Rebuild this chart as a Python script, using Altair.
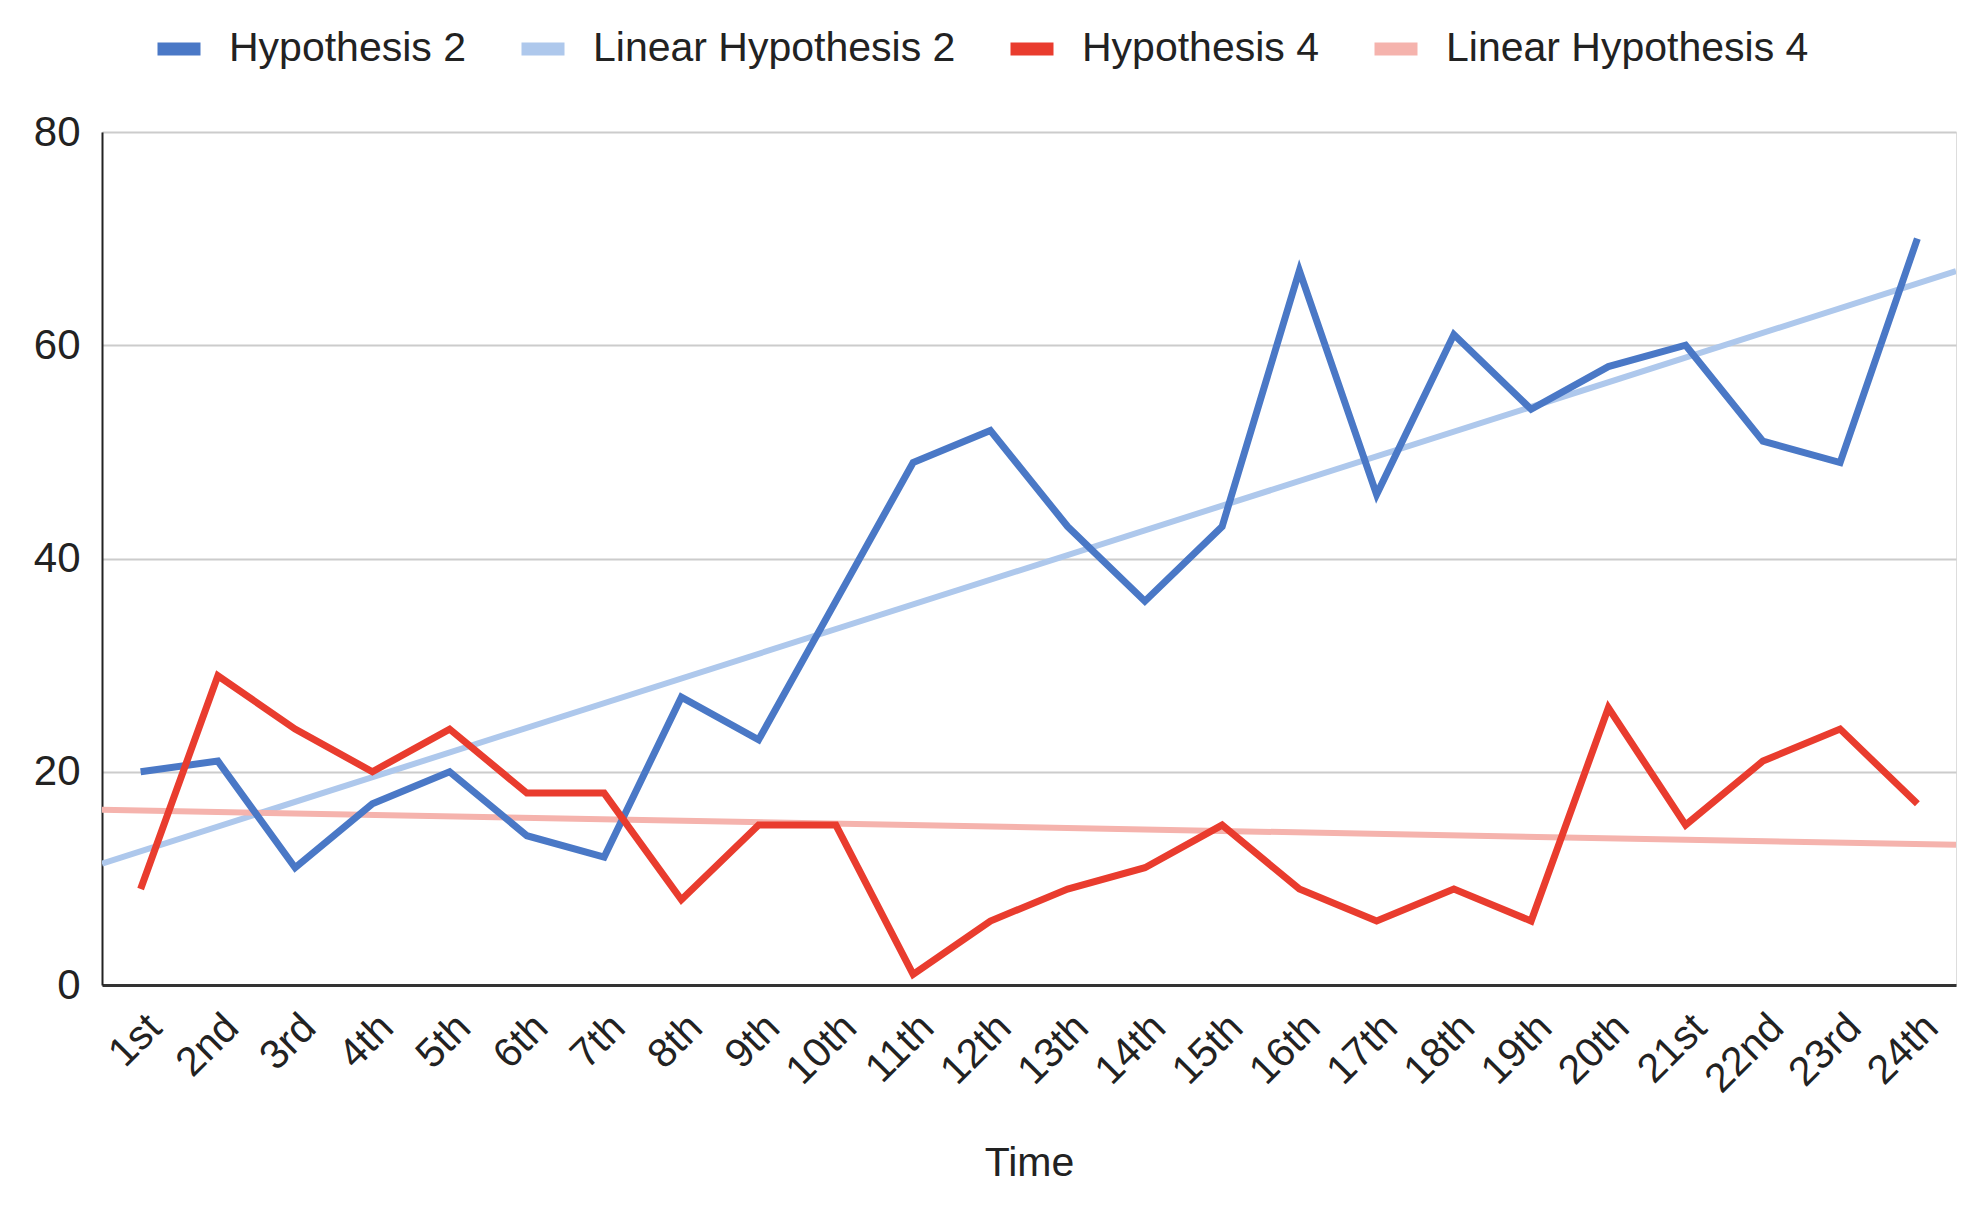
import altair as alt
import pandas as pd

labels = ["1st", "2nd", "3rd", "4th", "5th", "6th", "7th", "8th", "9th", "10th",
          "11th", "12th", "13th", "14th", "15th", "16th", "17th", "18th", "19th", "20th",
          "21st", "22nd", "23rd", "24th"]
hyp2 = [20, 21, 11, 17, 20, 14, 12, 27, 23, 36, 49, 52, 43, 36, 43, 67, 46, 61, 54, 58, 60, 51, 49, 70]
hyp4 = [9, 29, 24, 20, 24, 18, 18, 8, 15, 15, 1, 6, 9, 11, 15, 9, 6, 9, 6, 26, 15, 21, 24, 17]

series_names = ["Hypothesis 2", "Linear Hypothesis 2", "Hypothesis 4", "Linear Hypothesis 4"]
series_colors = ["#4a78c6", "#aec8ec", "#e93c2e", "#f5b3ad"]

rows = []
for i, (a, b) in enumerate(zip(hyp2, hyp4)):
    rows.append({"series": "Hypothesis 2", "idx": i + 1, "value": a})
    rows.append({"series": "Hypothesis 4", "idx": i + 1, "value": b})
df = pd.DataFrame(rows)

label_expr = "[" + ",".join("'%s'" % l for l in labels) + "][datum.value - 1]"

FONT = "Liberation Sans"

x_enc = alt.X("idx:Q",
              scale=alt.Scale(domain=[0.5, 24.5], nice=False, zero=False),
              axis=alt.Axis(values=list(range(1, 25)), labelExpr=label_expr,
                            labelAngle=-45, grid=False, ticks=False,
                            labelOverlap=False, labelBound=False,
                            domainColor="#333333", domainWidth=3,
                            labelPadding=22, labelFontSize=41, labelFont=FONT,
                            labelColor="#222222",
                            title="Time", titleFontSize=41, titleFont=FONT,
                            titleFontWeight="normal", titleColor="#222222",
                            titlePadding=44))
y_enc = alt.Y("value:Q",
              scale=alt.Scale(domain=[0, 80], nice=False),
              axis=alt.Axis(values=[0, 20, 40, 60, 80], title=None, ticks=False,
                            gridColor="#cccccc", gridWidth=2,
                            domainColor="#222222", domainWidth=2,
                            labelPadding=22, labelFontSize=42, labelFont=FONT,
                            labelColor="#222222"))
color_enc = alt.Color("series:N",
                      scale=alt.Scale(domain=series_names, range=series_colors),
                      sort=series_names,
                      legend=alt.Legend(orient="none", legendX=49, legendY=-111,
                                        direction="horizontal", title=None,
                                        symbolType="stroke", symbolStrokeWidth=13,
                                        symbolSize=1849, labelFontSize=41,
                                        labelFont=FONT, labelColor="#222222",
                                        labelOffset=22, columnPadding=28,
                                        labelLimit=0, symbolLimit=0))

base = alt.Chart(df)

trend = base.transform_regression(
    "idx", "value", groupby=["series"], extent=[0.5, 24.5]
).transform_calculate(
    series="'Linear ' + datum.series"
).mark_line(strokeWidth=6, clip=True).encode(
    x=x_enc, y=y_enc, color=color_enc, detail="series:N"
)

lines = base.mark_line(strokeWidth=7, strokeJoin="miter").encode(
    x=x_enc, y=y_enc, color=color_enc, order="idx:Q"
)

chart = alt.layer(trend, lines).properties(
    width=1854, height=853,
    padding={"left": 25, "top": 13, "right": 20, "bottom": 5}
).configure_view(stroke=None).configure(background="white")

chart.save("out.html", embed_options={"renderer": "svg", "actions": False})
